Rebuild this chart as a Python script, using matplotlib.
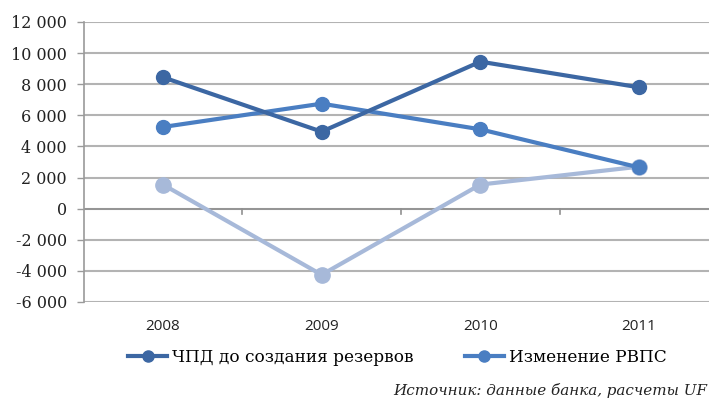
import matplotlib
matplotlib.use("Agg")
import matplotlib.pyplot as plt
from matplotlib.lines import Line2D

years = ["2008", "2009", "2010", "2011"]
chpd = [8450, 4950, 9450, 7800]
rvps = [5250, 6750, 5100, 2650]
third = [1550, -4250, 1550, 2700]
yticks = [-6000, -4000, -2000, 0, 2000, 4000, 6000, 8000, 10000, 12000]
ylabels = ["-6 000", "-4 000", "-2 000", "0", "2 000", "4 000", "6 000", "8 000", "10 000", "12 000"]

c_dark = "#3C67A3"
c_mid = "#4A7EC2"
c_light = "#A7B9D9"

fig = plt.figure(figsize=(7.09, 4.0), dpi=100)
# axes extends slightly beyond right edge (cropped reference)
ax = fig.add_axes([83.5 / 709, 1 - 302 / 400, (718.5 - 83.5) / 709, (302 - 22) / 400])

x = list(range(len(years)))
ax.plot(x, third, color=c_light, lw=3, marker="o", ms=11, zorder=3)
ax.plot(x, rvps, color=c_mid, lw=3, marker="o", ms=10, zorder=4)
ax.plot(x, chpd, color=c_dark, lw=3, marker="o", ms=10, zorder=5)

ax.set_xlim(-0.5, 3.5)
ax.set_ylim(-6000, 12000)
ax.set_yticks(yticks)
ax.set_yticklabels(ylabels, fontfamily="DejaVu Serif", fontsize=11.5, color="#222222")
ax.set_xticks(x)
ax.set_xticklabels(years, fontfamily="Open Sans", fontsize=11, color="#222222")
ax.tick_params(axis="x", length=0, pad=12)
ax.tick_params(axis="y", length=5, width=1, color="#9A9A9A", pad=7, direction="out")

for yv in yticks:
    ax.axhline(yv, color="#B3B3B3", lw=1.5, zorder=1)
# category axis at zero with boundary ticks
ax.axhline(0, color="#909090", lw=1.2, zorder=2)
for b in [0.5, 1.5, 2.5]:
    ax.plot([b, b], [0, -350], color="#909090", lw=1.2, zorder=2, clip_on=False)

for s in ["top", "right", "bottom"]:
    ax.spines[s].set_visible(False)
ax.spines["left"].set_color("#9A9A9A")
ax.spines["left"].set_linewidth(1.2)

handles = [
    Line2D([], [], color=c_dark, lw=3, marker="o", ms=8),
    Line2D([], [], color=c_mid, lw=3, marker="o", ms=8),
]
fig.legend(handles, ["ЧПД до создания резервов", "Изменение РВПС"],
           loc="center left", bbox_to_anchor=(113 / 709, 1 - 357 / 400),
           ncol=2, frameon=False, handlelength=2.3, handletextpad=0.3,
           columnspacing=3.0, prop={"family": "DejaVu Serif", "size": 12.2})

fig.text(707 / 709, 1 - 391 / 400, "Источник: данные банка, расчеты UF",
         ha="right", va="center", fontfamily="DejaVu Serif", style="italic",
         fontsize=10.9, color="#222222")

fig.savefig("out.png", dpi=100)
